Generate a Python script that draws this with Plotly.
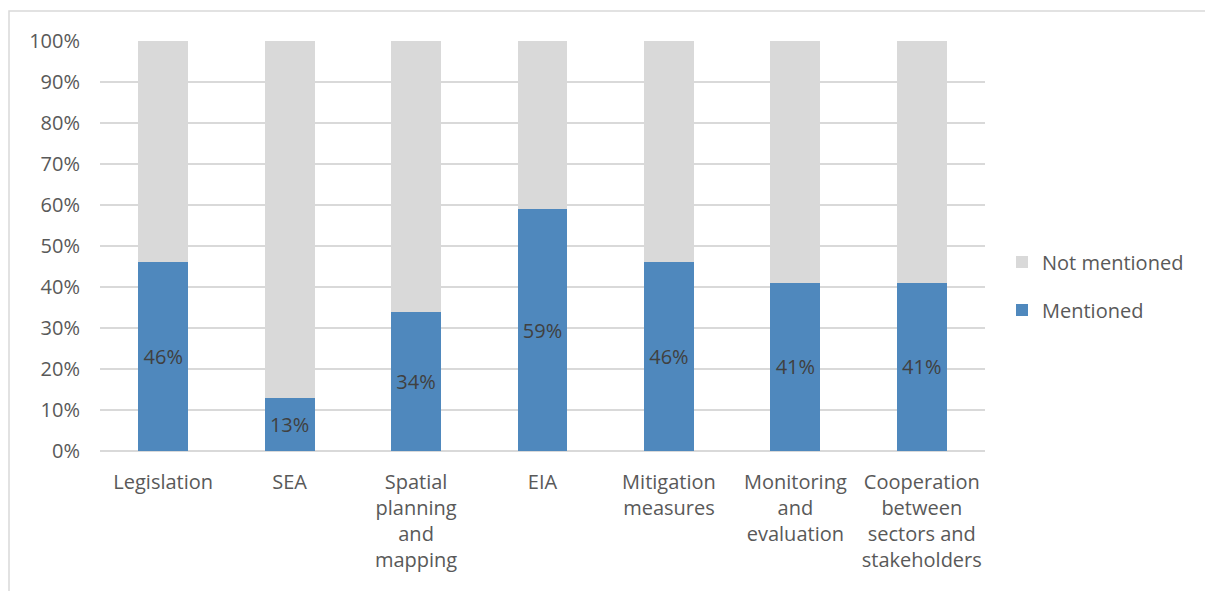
import plotly.graph_objects as go

categories = ["Legislation", "SEA", "Spatial<br>planning<br>and<br>mapping", "EIA",
              "Mitigation<br>measures", "Monitoring<br>and<br>evaluation",
              "Cooperation<br>between<br>sectors and<br>stakeholders"]
mentioned = [46, 13, 34, 59, 46, 41, 41]
not_mentioned = [100 - v for v in mentioned]

W, H = 1205, 591
L, R, T, B = 100, 220, 41, 140
pw, ph = W - L - R, H - T - B

def px_to_paper(x, y):
    return (x - L) / pw, (H - B - y) / ph

fig = go.Figure()
fig.add_trace(go.Bar(
    x=categories, y=mentioned, name="Mentioned", legendgroup="m", legendrank=2,
    marker=dict(color="#4f88bd", line=dict(width=0)),
    text=[f"{v}%" for v in mentioned], textposition="inside",
    insidetextanchor="middle",
    textfont=dict(color="#404040", size=20),
))
fig.add_trace(go.Bar(
    x=categories, y=not_mentioned, name="Not mentioned", legendgroup="n", legendrank=1,
    marker=dict(color="#d9d9d9", line=dict(width=0)),
    hoverinfo="skip",
))

# outer chart frame (partly off-page to the right and bottom)
x0, y0 = px_to_paper(9, 600)
x1, y1 = px_to_paper(1215, 11)
fig.add_shape(type="rect", xref="paper", yref="paper",
              x0=x0, y0=y0, x1=x1, y1=y1,
              line=dict(color="#d9d9d9", width=1.5), layer="below")

lx, ly = px_to_paper(1002, 286)
fig.update_layout(
    width=W, height=H,
    margin=dict(l=L, r=R, t=T, b=B, pad=0),
    barmode="stack", bargap=0.605,
    plot_bgcolor="white", paper_bgcolor="white",
    font=dict(family="Open Sans", color="#595959", size=20),
    uniformtext=dict(mode="show", minsize=10),
    legend=dict(x=lx, y=ly, yanchor="middle", xanchor="left",
                traceorder="grouped", font=dict(size=20, color="#595959"),
                itemwidth=30, tracegroupgap=19),
    xaxis=dict(showgrid=False, showline=False, ticks="outside", ticklen=13,
               tickcolor="rgba(0,0,0,0)", tickangle=0, tickfont=dict(size=20)),
    yaxis=dict(range=[0, 100], dtick=10, ticksuffix="%",
               gridcolor="#d9d9d9", gridwidth=1.5, showline=False,
               zeroline=True, zerolinecolor="#d9d9d9", zerolinewidth=1.5,
               ticks="outside", ticklen=15, tickcolor="rgba(0,0,0,0)",
               tickfont=dict(size=20)),
)

fig.write_html("out.html")
